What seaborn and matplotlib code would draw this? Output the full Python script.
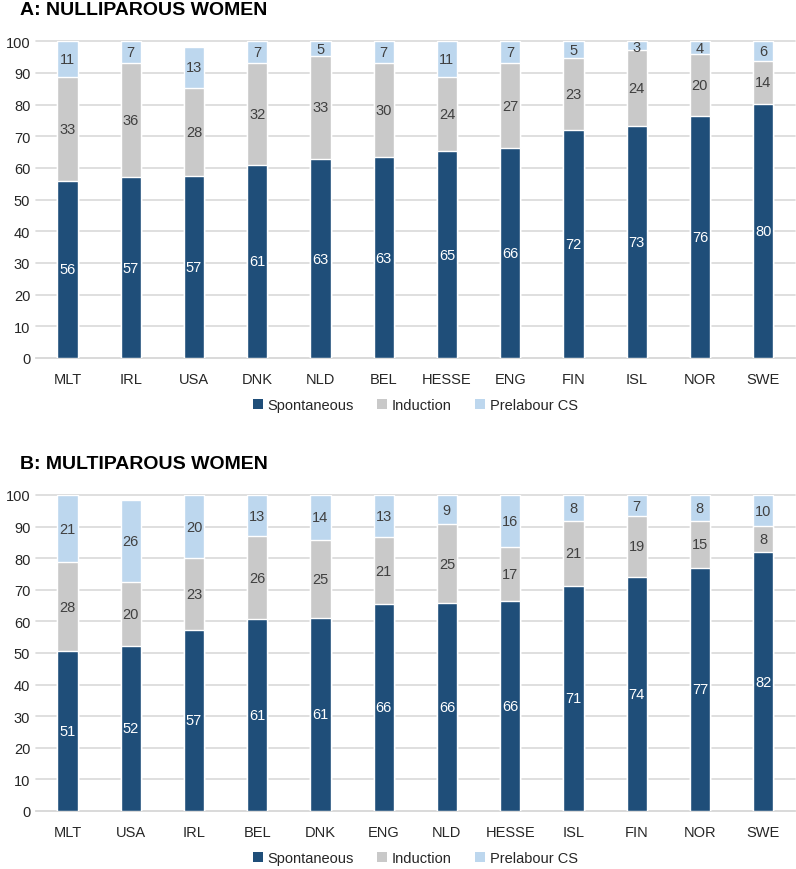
import pandas as pd
import seaborn as sns
import matplotlib.pyplot as plt
from matplotlib.patches import Patch

# Panel A: nulliparous women (percent)
countries_a = ['MLT', 'IRL', 'USA', 'DNK', 'NLD', 'BEL', 'HESSE', 'ENG', 'FIN', 'ISL', 'NOR', 'SWE']
spont_a = [55.9, 57.0, 57.4, 61.0, 62.8, 63.4, 65.2, 66.2, 71.9, 73.2, 76.4, 80.2]
induct_a = [32.7, 36.0, 28.0, 32.0, 32.6, 29.6, 23.6, 27.0, 22.7, 24.2, 19.6, 13.7]
cs_a = [11.4, 7.0, 12.7, 7.0, 4.6, 7.0, 11.2, 6.8, 5.4, 2.6, 4.0, 6.1]

# Panel B: multiparous women (percent)
countries_b = ['MLT', 'USA', 'IRL', 'BEL', 'DNK', 'ENG', 'NLD', 'HESSE', 'ISL', 'FIN', 'NOR', 'SWE']
spont_b = [50.7, 52.2, 57.3, 60.7, 61.1, 65.6, 65.7, 66.3, 71.2, 74.1, 76.9, 81.9]
induct_b = [28.0, 20.3, 22.7, 26.2, 24.7, 21.0, 25.0, 17.3, 20.6, 19.2, 15.0, 8.2]
cs_b = [21.3, 25.8, 20.0, 13.1, 14.2, 13.4, 9.3, 16.4, 8.2, 6.7, 8.1, 9.9]

series = ['Spontaneous', 'Induction', 'Prelabour CS']
colors = ['#1F4E79', '#C9C9C9', '#BDD7EE']
text_colors = ['white', '#404040', '#404040']

sns.set_theme(style='white')
plt.rcParams['font.family'] = ['Liberation Sans', 'DejaVu Sans']

fig = plt.figure(figsize=(7.96, 8.70), dpi=100)
ax_a = fig.add_axes([0.045, 0.5874, 0.9535, 0.364])
ax_b = fig.add_axes([0.045, 0.0667, 0.9535, 0.3632])


def draw_panel(ax, countries, spont, induct, cs, title):
    df = pd.DataFrame({'country': countries, 'Spontaneous': spont,
                       'Induction': induct, 'Prelabour CS': cs})
    df['c1'] = df['Spontaneous']
    df['c2'] = df['c1'] + df['Induction']
    df['c3'] = df['c2'] + df['Prelabour CS']
    # draw tallest layer first, then overlay the lower cumulative layers
    for col, color in zip(['c3', 'c2', 'c1'], colors[::-1]):
        sns.barplot(data=df, x='country', y=col, color=color, width=0.32,
                    saturation=1, ax=ax, zorder=3)
    # value labels centred in each segment
    for i, row in df.iterrows():
        bottom = 0
        for s, tc in zip(series, text_colors):
            v = row[s]
            y = bottom + v / 2
            if s == 'Prelabour CS' and v < 4:
                y = min(y, 98.3)  # tiny segment: keep label inside the axes
            ax.text(i, y, f'{v:.0f}', ha='center', va='center', fontsize=10.5,
                    color=tc, zorder=4)
            bottom += v
    ax.set_ylim(0, 100)
    ax.set_xlim(-0.5, len(countries) - 0.5)
    ax.set_yticks(range(0, 101, 10))
    ax.yaxis.grid(True, color='#D9D9D9', linewidth=1.2, zorder=0)
    for g in ax.get_ygridlines():
        g.set_clip_on(False)
    ax.set_axisbelow(True)
    for sp in ['top', 'right', 'left']:
        ax.spines[sp].set_visible(False)
    ax.spines['bottom'].set_color('#D9D9D9')
    ax.spines['bottom'].set_linewidth(1.2)
    ax.tick_params(axis='both', length=0, labelsize=10.5, labelcolor='#262626')
    ax.tick_params(axis='x', pad=10)
    ax.tick_params(axis='y', pad=4)
    ax.set_xlabel('')
    ax.set_ylabel('')
    handles = [Patch(facecolor=c, edgecolor='none', label=s) for s, c in zip(series, colors)]
    ax.legend(handles=handles, loc='upper center', bbox_to_anchor=(0.5, -0.085), ncol=3,
              frameon=False, fontsize=10.5, handlelength=0.7, handleheight=0.7,
              handletextpad=0.3, columnspacing=1.6, labelcolor='#262626')
    ax.text(-0.021, 1.085, title, transform=ax.transAxes, fontsize=14,
            fontweight='bold', ha='left', va='baseline', color='black')


draw_panel(ax_a, countries_a, spont_a, induct_a, cs_a, 'A: NULLIPAROUS WOMEN')
draw_panel(ax_b, countries_b, spont_b, induct_b, cs_b, 'B: MULTIPAROUS WOMEN')

fig.savefig('out.png', dpi=100)
